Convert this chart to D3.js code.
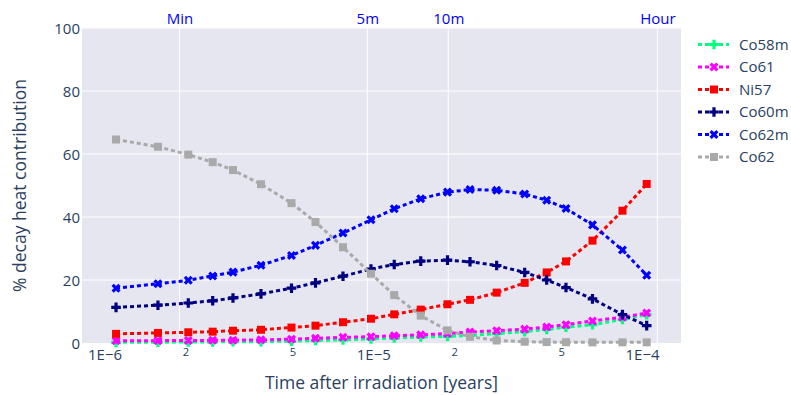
<!DOCTYPE html>
<html>
<head>
<meta charset="utf-8">
<script src="https://cdn.jsdelivr.net/npm/d3@7"></script>
<style>
  body { margin: 0; background: #fff; }
  svg { display: block; }
  text { font-family: "Open Sans", verdana, arial, sans-serif; }
</style>
</head>
<body>
<svg id="chart" width="791" height="395"></svg>
<script>
// Times after irradiation, in years
const times = [1.104e-6, 1.581e-6, 2.050e-6, 2.527e-6, 3.007e-6, 3.822e-6, 4.964e-6,
               6.097e-6, 7.717e-6, 9.808e-6, 1.197e-5, 1.502e-5, 1.889e-5, 2.291e-5,
               2.879e-5, 3.660e-5, 4.419e-5, 5.214e-5, 6.543e-5, 8.460e-5, 1.041e-4];

// Percentage of decay heat per nuclide
const co58m = [0.2, 0.25, 0.3, 0.35, 0.4, 0.45, 0.6, 0.8, 1.0, 1.3, 1.6,
               1.9, 2.1, 2.4, 3.0, 3.6, 4.3, 5.0, 5.8, 7.5, 9.0];
const co61  = [0.7, 0.75, 0.8, 0.85, 0.9, 1.0, 1.2, 1.5, 1.8, 2.0, 2.3,
               2.6, 3.0, 3.5, 3.9, 4.4, 5.1, 5.8, 7.0, 8.2, 9.5];
const ni57  = [2.9, 3.2, 3.4, 3.6, 3.9, 4.2, 4.9, 5.5, 6.6, 7.7, 9.1,
               10.6, 12.3, 13.7, 16.0, 19.1, 22.4, 25.9, 32.5, 42.0, 50.5];
const co60m = [11.3, 12.0, 12.7, 13.4, 14.3, 15.6, 17.4, 19.1, 21.2, 23.5, 24.9,
               26.0, 26.3, 25.8, 24.6, 22.4, 20.0, 17.6, 14.0, 9.0, 5.5];
const co62m = [17.4, 18.8, 19.9, 21.3, 22.5, 24.7, 27.8, 31.0, 34.9, 39.1, 42.6,
               45.8, 47.9, 48.7, 48.5, 47.3, 45.3, 42.7, 37.5, 29.5, 21.5];
const co62  = [64.6, 62.3, 59.8, 57.4, 54.9, 50.4, 44.4, 38.4, 30.4, 22.0, 15.2,
               8.7, 4.0, 2.0, 0.8, 0.4, 0.3, 0.25, 0.2, 0.2, 0.2];

const seriesNames = ["Co58m", "Co61", "Ni57", "Co60m", "Co62m", "Co62"];
const seriesValues = [co58m, co61, ni57, co60m, co62m, co62];

// Axis ticks
const yTicks = [0, 20, 40, 60, 80, 100];
const xTicks = [1e-6, 2e-6, 5e-6, 1e-5, 2e-5, 5e-5, 1e-4];
const xTickLabels = ["1E\u22126", "2", "5", "1E\u22125", "2", "5", "1E\u22124"];
const secondsPerYear = 365.25 * 24 * 3600;
const timeMarkSeconds = [60, 300, 600, 3600];
const timeMarkLabels = ["Min", "5m", "10m", "Hour"];

// Styling
const colors = ["#00FF7F", "#FF00FF", "#FF0000", "#000080", "#0000FF", "#A9A9A9"];
const symbols = ["cross", "x", "square", "cross", "x", "square"];
const textColor = "#2a3f5f";
const plotBg = "#E6E6F1";

const svg = d3.select("#chart");
const plot = { left: 82, right: 681, top: 28, bottom: 343 };

const x = d3.scaleLog()
  .domain([Math.pow(10, -6.0837), Math.pow(10, -3.8549)])
  .range([plot.left, plot.right]);
const y = d3.scaleLinear().domain([0, 100]).range([plot.bottom, plot.top]);

// Plot background
svg.append("rect")
  .attr("x", plot.left).attr("y", plot.top)
  .attr("width", plot.right - plot.left).attr("height", plot.bottom - plot.top)
  .attr("fill", plotBg);

// Horizontal grid
svg.append("g").selectAll("line")
  .data(yTicks.filter(d => d > 0))
  .join("line")
  .attr("x1", plot.left).attr("x2", plot.right)
  .attr("y1", d => y(d)).attr("y2", d => y(d))
  .attr("stroke", "#fff").attr("stroke-width", 1);

// Vertical grid at the named time marks
const timeMarks = timeMarkSeconds.map(s => s / secondsPerYear);
svg.append("g").selectAll("line")
  .data(timeMarks)
  .join("line")
  .attr("x1", d => x(d)).attr("x2", d => x(d))
  .attr("y1", plot.top).attr("y2", plot.bottom)
  .attr("stroke", "#fff").attr("stroke-width", 1);

// Y axis
const yAxis = d3.axisLeft(y).tickValues(yTicks).tickSize(0).tickPadding(2);
const gy = svg.append("g").attr("transform", `translate(${plot.left},0)`).call(yAxis);
gy.select(".domain").remove();
gy.selectAll("text")
  .attr("fill", textColor).attr("font-size", 15)
  .attr("x", -2).attr("dy", "0.35em");

// Bottom axis (log, with small intermediate labels)
const xAxis = d3.axisBottom(x).tickValues(xTicks).tickSize(0)
  .tickFormat((d, i) => xTickLabels[i]);
const gx = svg.append("g").attr("transform", `translate(0,${plot.bottom})`).call(xAxis);
gx.select(".domain").remove();
gx.selectAll("text")
  .attr("fill", textColor)
  .attr("dy", null)
  .attr("y", (d, i) => xTickLabels[i].length > 1 ? 16.5 : 13)
  .attr("font-size", (d, i) => xTickLabels[i].length > 1 ? 15 : 11.25);

// Top axis with time marks
const topAxis = d3.axisTop(x).tickValues(timeMarks).tickSize(0)
  .tickFormat((d, i) => timeMarkLabels[i]);
const gt = svg.append("g").attr("transform", `translate(0,${plot.top})`).call(topAxis);
gt.select(".domain").remove();
gt.selectAll("text")
  .attr("fill", "#0000FF").attr("font-size", 15)
  .attr("dy", null).attr("y", -4.5);

// Axis titles
svg.append("text")
  .attr("x", (plot.left + plot.right) / 2).attr("y", 389)
  .attr("text-anchor", "middle").attr("fill", textColor).attr("font-size", 17.5)
  .text("Time after irradiation [years]");
svg.append("text")
  .attr("transform", `translate(26,${(plot.top + plot.bottom) / 2}) rotate(-90)`)
  .attr("text-anchor", "middle").attr("fill", textColor).attr("font-size", 17.5)
  .text("% decay heat contribution");

// Marker shapes
function symbolPath(kind, size) {
  const r = size / 2;
  if (kind === "square") {
    return `M${r},${r}H${-r}V${-r}H${r}Z`;
  }
  if (kind === "cross") {
    const rc = r * 0.4, rc2 = r * 1.2;
    return `M${rc2},${rc}H${rc}V${rc2}H${-rc}V${rc}H${-rc2}V${-rc}H${-rc}V${-rc2}H${rc}V${-rc}H${rc2}Z`;
  }
  const rx = r * 0.8 / Math.SQRT2;
  const ne = `l${rx},${rx}`, se = `l${rx},${-rx}`, sw = `l${-rx},${-rx}`, nw = `l${-rx},${rx}`;
  return `M0,${rx}` + ne + se + sw + se + sw + nw + sw + nw + ne + nw + ne + "Z";
}

// Series
svg.append("clipPath").attr("id", "plotclip").append("rect")
  .attr("x", plot.left).attr("y", plot.top - 6)
  .attr("width", plot.right - plot.left).attr("height", plot.bottom - plot.top + 12);

const line = d3.line().x(d => x(d[0])).y(d => y(d[1]));
const layer = svg.append("g").attr("clip-path", "url(#plotclip)");
seriesValues.forEach((vals, si) => {
  const pts = times.map((t, i) => [t, vals[i]]);
  const g = layer.append("g");
  g.append("path")
    .attr("d", line(pts))
    .attr("fill", "none").attr("stroke", colors[si])
    .attr("stroke-width", 3).attr("stroke-dasharray", "4,3");
  g.selectAll("path.pt")
    .data(pts)
    .join("path")
    .attr("class", "pt")
    .attr("transform", d => `translate(${x(d[0])},${y(d[1])})`)
    .attr("d", symbolPath(symbols[si], 8))
    .attr("fill", colors[si]);
});

// Legend
const legend = svg.append("g").attr("transform", "translate(693,0)");
seriesNames.forEach((name, si) => {
  const cy = 44.5 + si * 22.5;
  const item = legend.append("g").attr("transform", `translate(0,${cy})`);
  item.append("line")
    .attr("x1", 5).attr("x2", 36).attr("y1", 0).attr("y2", 0)
    .attr("stroke", colors[si]).attr("stroke-width", 3).attr("stroke-dasharray", "4,3");
  item.append("path")
    .attr("transform", "translate(21,0)")
    .attr("d", symbolPath(symbols[si], 8))
    .attr("fill", colors[si]);
  item.append("text")
    .attr("x", 46).attr("dy", "0.35em")
    .attr("fill", textColor).attr("font-size", 15)
    .text(name);
});
</script>
</body>
</html>
